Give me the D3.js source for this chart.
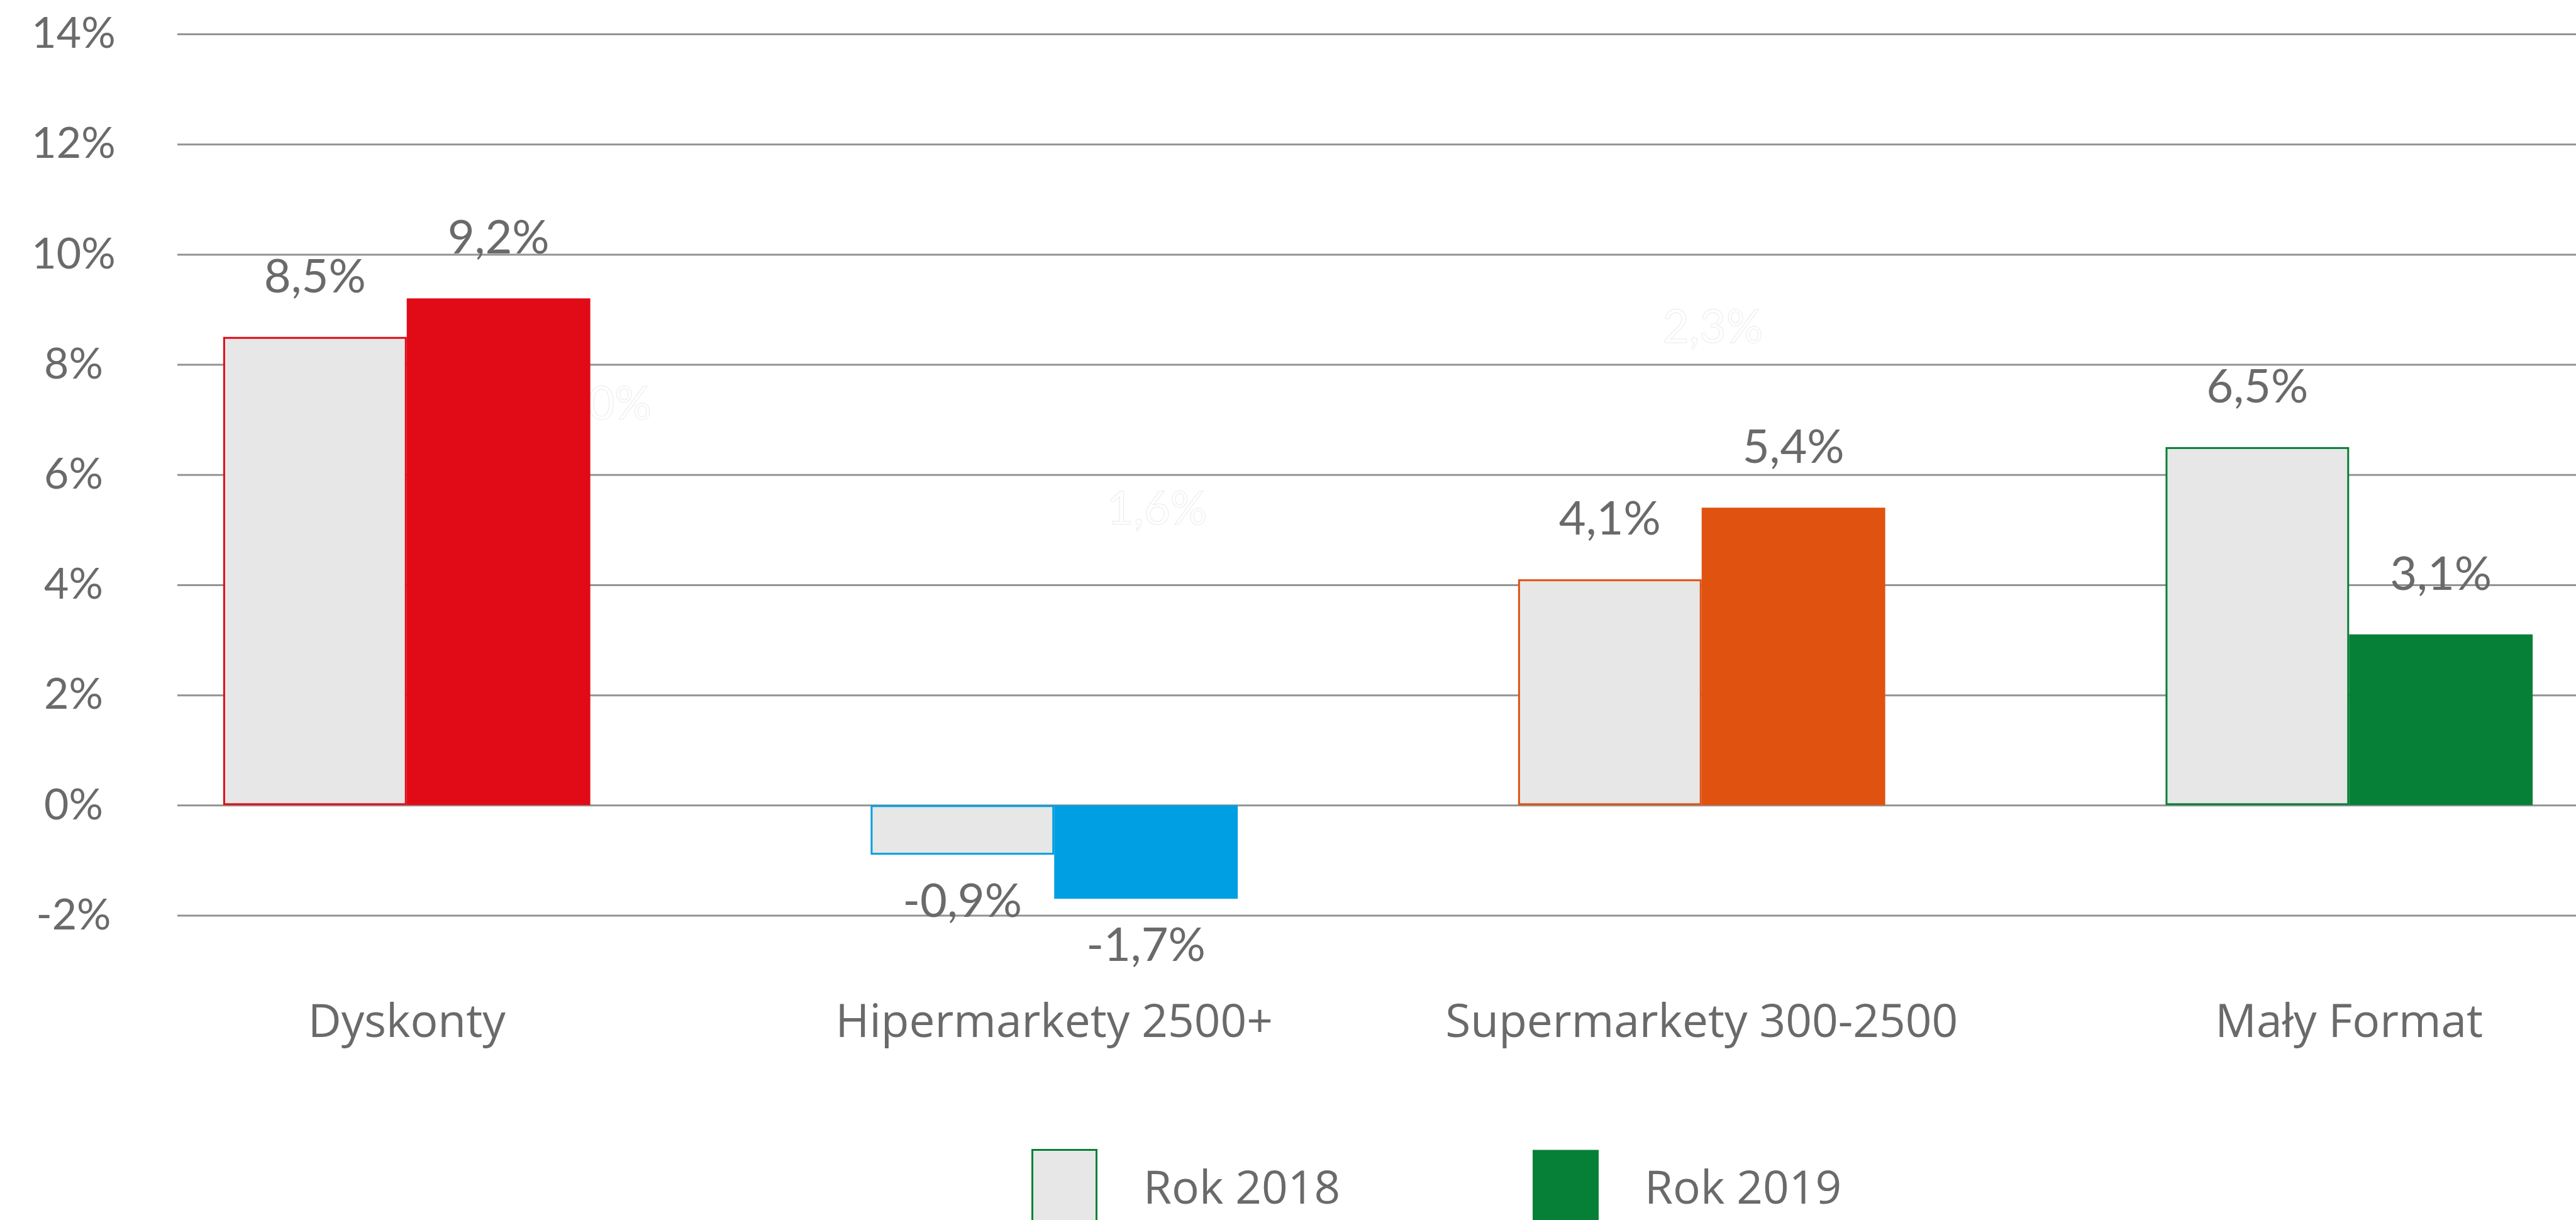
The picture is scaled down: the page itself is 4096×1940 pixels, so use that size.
<!DOCTYPE html>
<html>
<head>
<meta charset="utf-8">
<script src="https://cdn.jsdelivr.net/npm/d3@7/dist/d3.min.js"></script>
<style>
  html, body { margin: 0; padding: 0; background: #fff; }
  svg { display: block; }
</style>
</head>
<body>
<div id="chart"></div>
<script>
// data
var categories = ["Dyskonty", "Hipermarkety 2500+", "Supermarkety 300-2500", "Mały Format"];
var series = ["Rok 2018", "Rok 2019"];
var values2018 = [8.5, -0.9, 4.1, 6.5];
var values2019 = [9.2, -1.7, 5.4, 3.1];
var catColours = ["#e10a17", "#009fe3", "#e05210", "#078037"];
var yTicks = [-2, 0, 2, 4, 6, 8, 10, 12, 14];

// faint leftover labels (white text, barely visible in the original)
var ghostText = ["9,0%", "1,6%", "2,3%"];
var ghostCat = ["Dyskonty", "Hipermarkety 2500+", "Supermarkety 300-2500"];
var ghostAt = [7.0, 5.1, 8.4];

var width = 4096,
    height = 1940;

var grey = "#6a6a6a",
    lightFill = "#e6e7e6";

var svg = d3.select("#chart")
    .append("svg")
    .attr("width", width)
    .attr("height", height);

var y = d3.scaleLinear()
    .domain([-2, 14])
    .range([1455.5, 54]);

var x0 = d3.scaleBand()
    .domain(categories)
    .range([132, 4250])
    .paddingInner(0.433)
    .paddingOuter(0.2165);

var x1 = d3.scaleBand()
    .domain(series)
    .range([0, x0.bandwidth()]);

var pl = d3.formatLocale({decimal: ",", thousands: " ", grouping: [3], currency: ["", " zł"], minus: "-"});
var fmt = pl.format(".1f");

// grid + y labels
var gridLeft = 282;
var yAxis = svg.append("g")
    .attr("transform", "translate(" + gridLeft + ",0)")
    .call(d3.axisLeft(y)
        .tickValues(yTicks)
        .tickSize(-(width - gridLeft))
        .tickFormat(function(d) { return d + "%"; }));

yAxis.select(".domain").remove();
yAxis.selectAll(".tick line")
    .attr("stroke", "#939393")
    .attr("stroke-width", 3);
yAxis.selectAll(".tick text")
    .attr("x", 117 - gridLeft)
    .attr("text-anchor", "middle")
    .attr("fill", grey)
    .style("font-family", "Lato, sans-serif")
    .style("font-size", "68px");

// ghost labels sit behind the bars
svg.append("g")
    .selectAll("text")
    .data(ghostText)
    .enter().append("text")
    .attr("x", function(d, i) {
        var f = [1.03, 0.78, 0.53][i];
        return x0(ghostCat[i]) + x0.bandwidth() * f;
    })
    .attr("y", function(d, i) { return y(ghostAt[i]); })
    .attr("text-anchor", "middle")
    .attr("fill", "#ffffff")
    .attr("stroke", "#ebebeb")
    .attr("stroke-width", 1)
    .style("font-family", "Lato, sans-serif")
    .style("font-size", "73px")
    .text(function(d) { return d; });

// bars
var groups = svg.append("g")
    .selectAll("g")
    .data(categories)
    .enter().append("g")
    .attr("transform", function(d) { return "translate(" + x0(d) + ",0)"; });

groups.append("rect")
    .attr("x", x1("Rok 2018") + 1.5)
    .attr("y", function(d, i) { return Math.min(y(values2018[i]), y(0)) + 1.5; })
    .attr("width", x1.bandwidth() - 3)
    .attr("height", function(d, i) { return Math.abs(y(values2018[i]) - y(0)) - 3; })
    .attr("fill", lightFill)
    .attr("stroke", function(d, i) { return catColours[i]; })
    .attr("stroke-width", 3);

groups.append("rect")
    .attr("x", x1("Rok 2019"))
    .attr("y", function(d, i) { return Math.min(y(values2019[i]), y(0)); })
    .attr("width", x1.bandwidth())
    .attr("height", function(d, i) { return Math.abs(y(values2019[i]) - y(0)); })
    .attr("fill", function(d, i) { return catColours[i]; });

// value labels
function addLabels(vals, s) {
    groups.append("text")
        .attr("x", x1(s) + x1.bandwidth() / 2)
        .attr("y", function(d, i) {
            var v = vals[i];
            return v >= 0 ? y(v) - 71 : y(v) + 99;
        })
        .attr("text-anchor", "middle")
        .attr("fill", grey)
        .style("font-family", "Lato, sans-serif")
        .style("font-size", "74px")
        .text(function(d, i) { return fmt(vals[i]) + "%"; });
}
addLabels(values2018, "Rok 2018");
addLabels(values2019, "Rok 2019");

// category labels
groups.append("text")
    .attr("x", x0.bandwidth() / 2)
    .attr("y", 1649)
    .attr("text-anchor", "middle")
    .attr("fill", grey)
    .style("font-family", "'Open Sans', sans-serif")
    .style("font-size", "73px")
    .text(function(d) { return d; });

// legend
var legendGreen = catColours[3];
var legend = svg.append("g");
var legendX = [1640, 2437];

legend.selectAll("rect")
    .data(series)
    .enter().append("rect")
    .attr("x", function(d, i) { return legendX[i] + (i === 0 ? 1.5 : 0); })
    .attr("y", 1828.5)
    .attr("width", function(d, i) { return i === 0 ? 102 : 105; })
    .attr("height", 140)
    .attr("fill", function(d, i) { return i === 0 ? lightFill : legendGreen; })
    .attr("stroke", function(d, i) { return i === 0 ? legendGreen : "none"; })
    .attr("stroke-width", 3);

legend.selectAll("text")
    .data(series)
    .enter().append("text")
    .attr("x", function(d, i) { return legendX[i] + 178; })
    .attr("y", 1914)
    .attr("fill", grey)
    .style("font-family", "'Open Sans', sans-serif")
    .style("font-size", "73px")
    .text(function(d) { return d; });
</script>
</body>
</html>
